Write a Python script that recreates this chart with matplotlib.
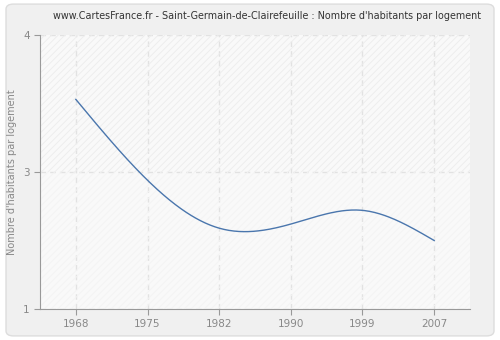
import numpy as np
import matplotlib.pyplot as plt
from matplotlib.patches import FancyBboxPatch

years = ['1968', '1975', '1982', '1990', '1999', '2007']
habitants = [3.53, 2.94, 2.59, 2.62, 2.72, 2.50]
y_ticks = [2, 3, 4]
y_tick_labels = ['1', '3', '4']


def natural_spline(x, y, xs):
    # natural cubic spline through the points
    x = np.asarray(x, float)
    y = np.asarray(y, float)
    n = len(x)
    h = np.diff(x)
    A = np.zeros((n, n))
    r = np.zeros(n)
    A[0, 0] = 1
    A[-1, -1] = 1
    for i in range(1, n - 1):
        A[i, i - 1] = h[i - 1]
        A[i, i] = 2 * (h[i - 1] + h[i])
        A[i, i + 1] = h[i]
        r[i] = 3 * ((y[i + 1] - y[i]) / h[i] - (y[i] - y[i - 1]) / h[i - 1])
    c = np.linalg.solve(A, r)
    b = (y[1:] - y[:-1]) / h - h * (2 * c[:-1] + c[1:]) / 3
    d = (c[1:] - c[:-1]) / (3 * h)
    k = np.clip(np.searchsorted(x, xs) - 1, 0, n - 2)
    t = xs - x[k]
    return y[k] + b[k] * t + c[k] * t ** 2 + d[k] * t ** 3


fig = plt.figure(figsize=(5, 3.4), dpi=100)
fig.patch.set_facecolor('white')
fig.patches.append(FancyBboxPatch((0.012, 0.012), 0.976, 0.976,
                                  boxstyle='round,pad=0,rounding_size=0.015',
                                  transform=fig.transFigure, facecolor='#f0f0f0',
                                  edgecolor='#dddddd', linewidth=1, zorder=-1))

ax = fig.add_axes([40 / 500, 1 - 309 / 340, 430 / 500, 274 / 340])
ax.set_facecolor('#f9f9f9')
plt.rcParams['hatch.linewidth'] = 0.6
ax.fill_between([-1, 6], 3, 4, facecolor='none', edgecolor='#ececec',
                hatch='/////', linewidth=0)
ax.fill_between([-1, 6], 2, 3, facecolor='none', edgecolor='#f3f3f3',
                hatch='/////', linewidth=0)

pos = np.arange(len(years))
xs = np.linspace(0, len(years) - 1, 300)
ax.plot(xs, natural_spline(pos, habitants, xs), color='#4a76ad', linewidth=1)

ax.set_xlim(-0.5, len(years) - 0.5)
ax.set_ylim(2, 4)
ax.set_xticks(pos)
ax.set_xticklabels(years)
ax.set_yticks(y_ticks)
ax.set_yticklabels(y_tick_labels)
ax.grid(True, color='#e2e2e2', linestyle=(0, (4, 3)), linewidth=1)
ax.set_axisbelow(True)

for side in ['top', 'right']:
    ax.spines[side].set_visible(False)
for side in ['left', 'bottom']:
    ax.spines[side].set_color('#999999')
ax.tick_params(colors='#999999', labelcolor='#888888', labelsize=7.5, length=4)

ax.set_ylabel("Nombre d'habitants par logement", color='#888888', fontsize=7)
fig.text(0.534, 1 - 16 / 340, "www.CartesFrance.fr - Saint-Germain-de-Clairefeuille : Nombre d'habitants par logement",
         ha='center', va='center', fontsize=6.9, color='#333333')

fig.savefig('out.png', dpi=100, facecolor=fig.get_facecolor())
